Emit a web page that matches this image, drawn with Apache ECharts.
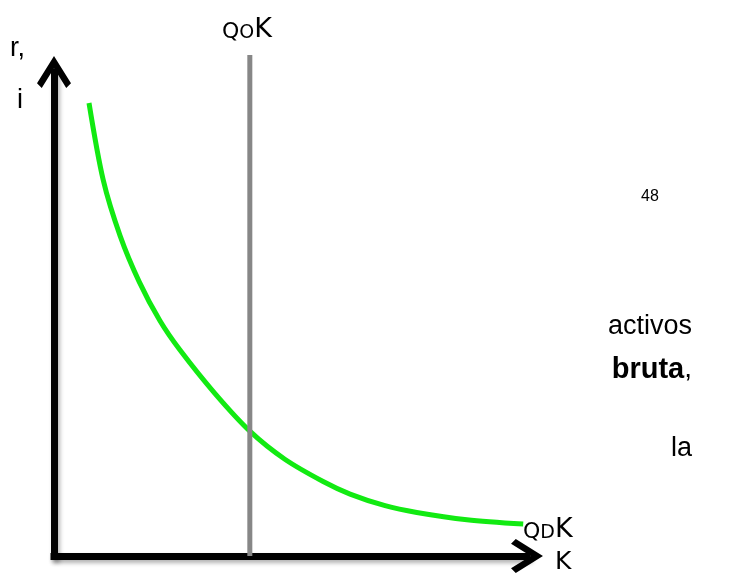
<!DOCTYPE html>
<html>
<head>
<meta charset="utf-8">
<script src="https://cdn.jsdelivr.net/npm/echarts@6/dist/echarts.min.js"></script>
<style>html,body{margin:0;padding:0;background:#fff}#c{width:754px;height:576px}</style>
</head>
<body>
<div id="c"></div>
<script>
// Demand curve QDK (K, r)
var curveK = [7.4, 10.4, 14.0, 18.0, 22.4, 26.6, 34.0, 41.4, 48.8, 56.9, 62.6, 70.0, 76.7, 87.3, 99.2];
var curveR = [93.6, 77.7, 66.1, 56.7, 48.6, 42.6, 33.6, 25.8, 20.0, 15.4, 12.8, 10.4, 9.0, 7.5, 6.6];
// Supply line QOK (vertical)
var supplyK = [41.4, 41.4];
var supplyR = [0, 103.5];

var chevron = 'path://M50,0 L100,80 L86,94 L50,36 L14,94 L0,80 Z';

function zip(a, b) { return a.map(function (v, i) { return [v, b[i]]; }); }

var chart = echarts.init(document.getElementById('c'));
var axisCommon = {
  type: 'value', min: 0, max: 100,
  axisTick: { show: false }, axisLabel: { show: false }, splitLine: { show: false },
  axisLine: {
    show: true, symbol: ['none', chevron], symbolSize: [34, 34], symbolOffset: [0, 0],
    lineStyle: { color: '#000', width: 7, cap: 'square',
      shadowColor: 'rgba(0,0,0,0.3)', shadowBlur: 4, shadowOffsetX: 2, shadowOffsetY: 3 }
  }
};
var qRich = {
  q: { font: '22px "DejaVu Sans"', fill: '#000', verticalAlign: 'bottom' },
  o: { font: '19px "DejaVu Sans"', fill: '#000', verticalAlign: 'bottom' },
  b: { font: '27px "DejaVu Sans"', fill: '#000', verticalAlign: 'bottom' }
};
chart.setOption({
  animation: false,
  backgroundColor: '#fff',
  grid: { left: 54, top: 72, width: 473, height: 484 },
  xAxis: axisCommon,
  yAxis: axisCommon,
  series: [
    { type: 'line', data: zip(curveK, curveR), smooth: 0.3, showSymbol: false, clip: false,
      lineStyle: { color: '#12ea12', width: 5 }, z: 3 },
    { type: 'line', data: zip(supplyK, supplyR), showSymbol: false, clip: false,
      lineStyle: { color: '#878787', width: 5 }, z: 4 }
  ],
  graphic: [
    { type: 'text', left: 10, top: 35, style: { text: 'r,', font: '27px "Liberation Sans"', fill: '#000' } },
    { type: 'text', left: 17, top: 87, style: { text: 'i', font: '27px "Liberation Sans"', fill: '#000' } },
    { type: 'text', left: 222, top: 16, style: { text: '{q|Q}{o|O}{b|K}', rich: qRich } },
    { type: 'text', left: 523, top: 516, style: { text: '{q|Q}{o|D}{b|K}', rich: qRich } },
    { type: 'text', left: 555, top: 550, style: { text: 'K', font: '25px "DejaVu Sans"', fill: '#000' } },
    { type: 'text', left: 641, top: 189, style: { text: '48', font: '16px "Liberation Sans"', fill: '#000' } },
    { type: 'text', right: 62, top: 313, style: { text: 'activos', font: '27px "Liberation Sans"', fill: '#000' } },
    { type: 'text', right: 62, top: 355, style: { text: '{b|bruta},', font: '28px "Liberation Sans"', fill: '#000', rich: { b: { font: 'bold 29px "Liberation Sans"', fill: '#000' } } } },
    { type: 'text', right: 62, top: 435, style: { text: 'la', font: '27px "Liberation Sans"', fill: '#000' } }
  ]
});
</script>
</body>
</html>
